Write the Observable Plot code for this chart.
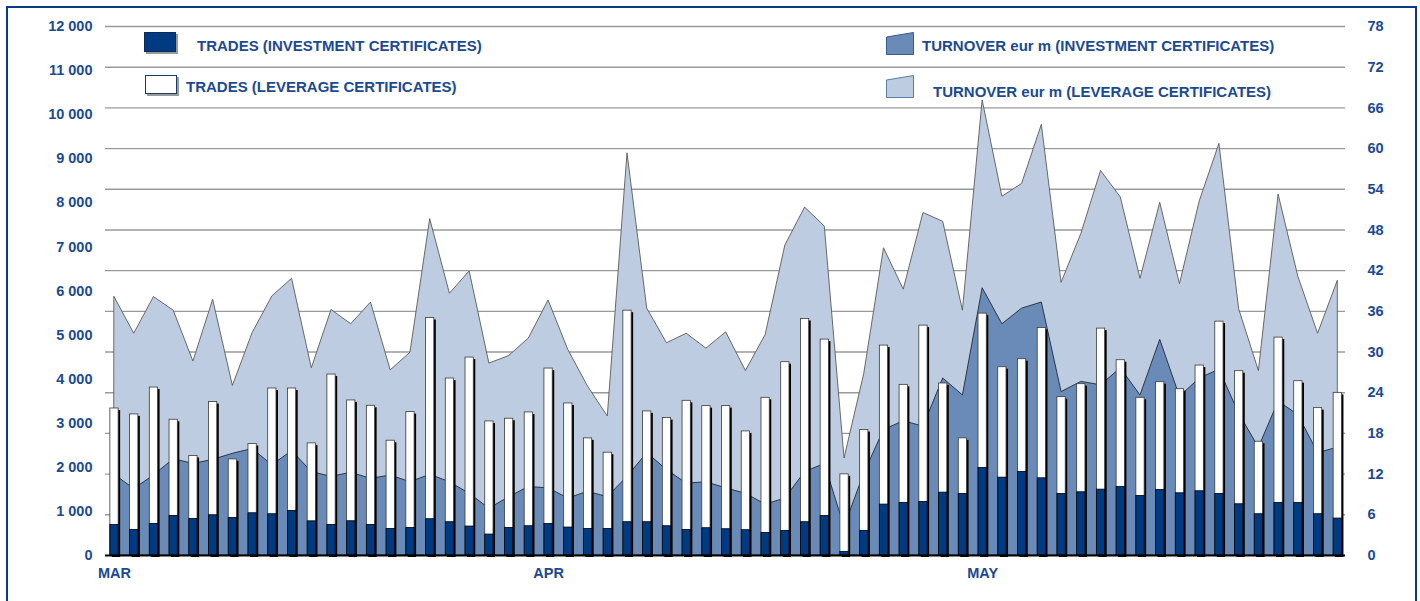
<!DOCTYPE html>
<html><head><meta charset="utf-8">
<script src="https://cdn.jsdelivr.net/npm/d3@7"></script>
<script src="https://cdn.jsdelivr.net/npm/@observablehq/plot@0.6"></script>
<style>
html,body{margin:0;padding:0;background:#fff;overflow:hidden;}
#wrap{position:relative;width:1420px;height:601px;overflow:hidden;font-family:"Liberation Sans",Arial,sans-serif;}
#chart{position:absolute;left:0;top:0;}
#frame{position:absolute;left:6px;top:6px;width:1411px;height:640px;border:2.5px solid #0a3a85;box-sizing:border-box;pointer-events:none;}
.leg{position:absolute;font:bold 15px "Liberation Sans",Arial,sans-serif;color:#1c4a92;white-space:nowrap;line-height:1;}
.icon{position:absolute;overflow:visible;}
</style></head>
<body><div id="wrap"><div id="chart"></div><div id="legend"></div><div id="frame"></div></div>
<script>
// ---- data, one value per trading day ----
const tradesInvestment = [690,580,717,898,830,913,853,958,936,1011,775,694,777,694,603,626,823,755,657,475,626,664,717,634,603,603,755,755,664,581,619,596,574,513,558,755,898,83,558,1155,1192,1215,1426,1396,1985,1766,1894,1751,1396,1434,1494,1555,1351,1487,1411,1457,1396,1162,936,1192,1192,936,838];
const tradesLeverage = [2645,2620,3093,2182,1427,2567,1327,1570,2852,2777,1768,3411,2740,2702,2001,2627,4565,3260,3833,2566,2476,2581,3524,2815,2054,1729,4799,2513,2453,2928,2770,2793,2241,3064,3827,4611,4000,1758,2287,3607,2679,4000,2476,1261,3502,2505,2559,3411,2196,2452,3653,2875,2226,2445,2362,2852,3909,3019,1645,3751,2762,2407,2852];
const turnoverInvestment = [11.9,9.8,11.8,14.2,13.5,14.1,15.0,15.7,13.3,15.4,12.3,11.6,12.2,11.3,11.8,10.8,11.9,10.8,9.1,6.9,8.6,10.1,9.9,8.4,9.4,8.6,11.6,15.1,12.6,10.6,10.8,9.9,9.1,7.5,8.4,12.3,13.5,4.2,12.1,18.5,19.8,19.0,26.1,23.6,39.4,34.1,36.4,37.3,24.1,25.6,25.1,27.6,23.6,31.8,23.4,26.1,27.4,20.9,15.9,22.7,20.7,15.1,15.9];
const turnoverLeverage = [26.2,22.9,26.3,21.9,15.1,23.6,10.0,17.1,24.9,25.4,15.3,24.6,21.9,26.0,15.5,19.1,37.7,27.8,32.8,21.4,20.8,21.9,27.7,21.9,15.5,11.9,47.7,21.3,18.7,22.1,19.7,23.0,18.1,25.0,37.3,39.0,35.0,10.1,14.7,26.8,19.4,31.5,23.1,12.5,27.7,18.8,18.4,26.2,16.1,21.8,31.6,25.2,17.2,20.2,16.6,26.1,33.3,15.4,11.3,30.5,20.4,17.6,24.6];
const monthLabels = ["MAR","APR","MAY"];
const monthStartIndex = [0,22,44];
const tradeTicks = [0,1000,2000,3000,4000,5000,6000,7000,8000,9000,10000,11000,12000];
const turnoverTicks = [0,6,12,18,24,30,36,42,48,54,60,66,72,78];
const legendLabels = {
  tradesInv: "TRADES (INVESTMENT CERTIFICATES)",
  tradesLev: "TRADES (LEVERAGE CERTIFICATES)",
  turnInv: "TURNOVER eur m (INVESTMENT CERTIFICATES)",
  turnLev: "TURNOVER eur m (LEVERAGE CERTIFICATES)"
};

// ---- styles ----
const textColor = "#1c4a92";
const darkBlue = "#003a80";
const midBlue = "#6a8bb8";
const lightBlue = "#bdcce0";

const tradesMax = 12000, turnMax = 78;
const k = turnMax / tradesMax; // maps trades onto the turnover (right) scale
const halfW = 0.21;

const table = tradesInvestment.map((v, i) => ({
  i,
  tInv: v,
  tLev: tradesLeverage[i],
  uInv: turnoverInvestment[i],
  uLev: turnoverLeverage[i]
}));

const fmt = v => d3.format(",")(v).replace(/,/g, " ");

const chart = Plot.plot({
  width: 1420,
  height: 601,
  marginLeft: 105,
  marginRight: 75,
  marginTop: 26,
  marginBottom: 46,
  style: {fontFamily: "'Liberation Sans', Arial, sans-serif", fontSize: "14.5px", fontWeight: "bold", color: textColor, background: "transparent", overflow: "visible"},
  x: {type: "linear", domain: [-0.456, 62.39], axis: null, label: null},
  y: {domain: [0, turnMax], axis: null, label: null},
  marks: [
    Plot.gridY(turnoverTicks.filter(t => t > 0), {stroke: "#9a9a9a", strokeOpacity: 1, strokeWidth: 1.4}),
    Plot.areaY(table, {x: "i", y1: 0, y2: d => d.uInv + d.uLev, fill: lightBlue, stroke: "#5a5a5a", strokeWidth: 0.9}),
    Plot.areaY(table, {x: "i", y1: 0, y2: "uInv", fill: midBlue, stroke: "#1e2a3a", strokeWidth: 0.9}),
    // bar shadows
    Plot.rectY(table, {x1: d => d.i - halfW, x2: d => d.i + halfW, y1: 0, y2: d => (d.tInv + d.tLev) * k, fill: "#000", dx: 2, dy: 2}),
    // leverage stacked on investment — white bar reaches the total
    Plot.rectY(table, {x1: d => d.i - halfW, x2: d => d.i + halfW, y1: 0, y2: d => (d.tInv + d.tLev) * k, fill: "#fff", stroke: "#3a3a3a", strokeWidth: 0.8}),
    // investment
    Plot.rectY(table, {x1: d => d.i - halfW, x2: d => d.i + halfW, y1: 0, y2: d => d.tInv * k, fill: darkBlue, stroke: "#000", strokeWidth: 0.8}),
    Plot.ruleY([0], {stroke: "#000", strokeWidth: 2}),
    Plot.axisY(tradeTicks.map(v => v * k), {anchor: "left", label: null, tickSize: 0, tickPadding: 13, tickFormat: t => fmt(Math.round(t / k)), fill: textColor, fontWeight: "bold", fontSize: 14.5}),
    Plot.axisY(turnoverTicks, {anchor: "right", label: null, tickSize: 0, tickPadding: 22, fill: textColor, fontWeight: "bold", fontSize: 14.5}),
    Plot.axisX(monthStartIndex, {anchor: "bottom", label: null, tickSize: 0, tickPadding: 12, tickFormat: d => monthLabels[monthStartIndex.indexOf(d)], fill: textColor, fontWeight: "bold", fontSize: 14.5})
  ]
});
document.getElementById("chart").appendChild(chart);

// ---- legend (overlay) ----
const legend = document.getElementById("legend");
function addText(txt, left, top) {
  const d = document.createElement("div");
  d.className = "leg";
  d.style.left = left + "px";
  d.style.top = top + "px";
  d.textContent = txt;
  legend.appendChild(d);
}
function addIcon(left, top, w, h, inner) {
  const ns = "http://www.w3.org/2000/svg";
  const s = document.createElementNS(ns, "svg");
  s.setAttribute("class", "icon");
  s.setAttribute("width", w + 4);
  s.setAttribute("height", h + 4);
  s.style.left = left + "px";
  s.style.top = top + "px";
  s.innerHTML = inner;
  legend.appendChild(s);
}
addIcon(144, 32, 32, 20, `<rect x="2" y="2" width="32" height="20" fill="#9a9a9a"/><rect x="0.5" y="0.5" width="31" height="19" fill="${darkBlue}" stroke="#0a2a5a" stroke-width="1"/>`);
addText(legendLabels.tradesInv, 197, 37.7);
addIcon(145, 75, 32, 19, `<rect x="2" y="2" width="32" height="19" fill="#9a9a9a"/><rect x="0.5" y="0.5" width="31" height="18" fill="#fff" stroke="#1c3a6a" stroke-width="1"/>`);
addText(legendLabels.tradesLev, 186, 79.4);
addIcon(886, 32, 28, 23, `<polygon points="0.5,5 27.5,0.5 27.5,22.5 0.5,22.5" fill="${midBlue}" stroke="#3a5a8a" stroke-width="1"/>`);
addText(legendLabels.turnInv, 922, 37.7);
addIcon(886, 75, 28, 23, `<polygon points="0.5,5 27.5,0.5 27.5,22.5 0.5,22.5" fill="${lightBlue}" stroke="#5a7aa8" stroke-width="1"/>`);
addText(legendLabels.turnLev, 933, 83.7);
</script>
</body></html>
